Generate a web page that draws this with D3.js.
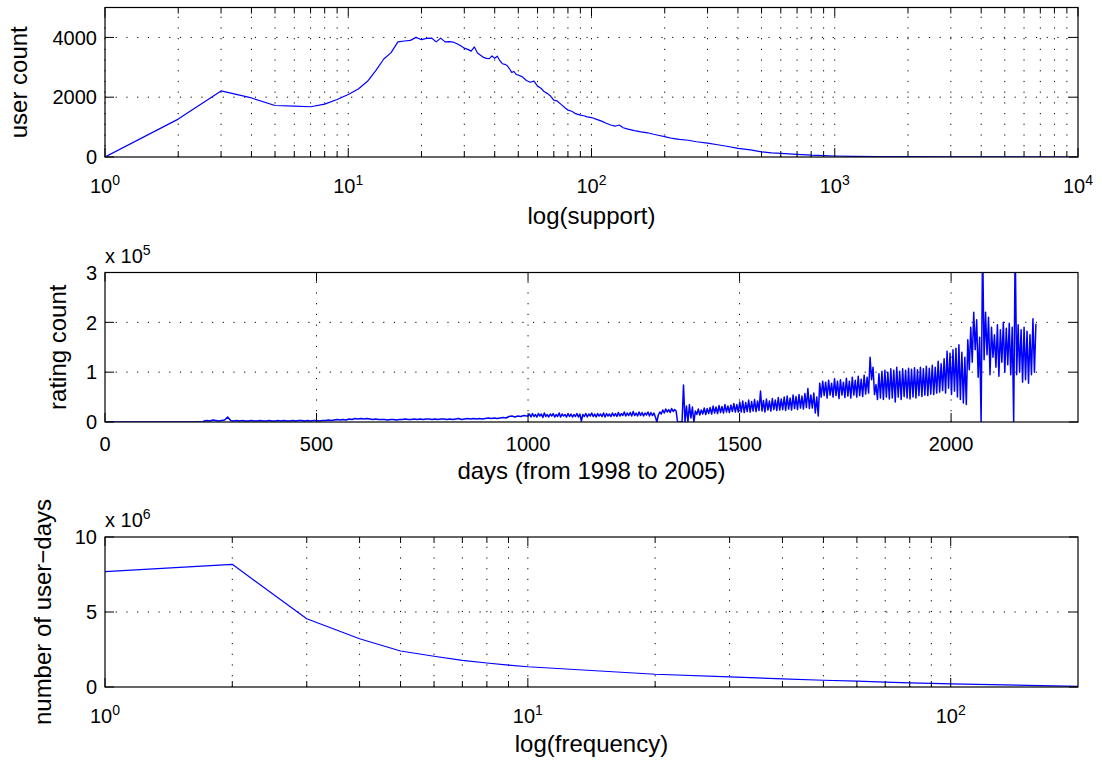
<!DOCTYPE html>
<html>
<head>
<meta charset="utf-8">
<script src="https://cdn.jsdelivr.net/npm/d3@7"></script>
<style>
body { margin: 0; background: #fff; }
text { font-family: "Liberation Sans", Arial, Helvetica, sans-serif; fill: #000; }
.grid { stroke: #000; stroke-width: 1; stroke-dasharray: 1.2, 9.5; }
.frame { fill: none; stroke: #000; stroke-width: 1.2; }
.tick { stroke: #000; stroke-width: 1; }
.series { fill: none; stroke: #0000ff; stroke-width: 1.2; stroke-linejoin: round; }
</style>
</head>
<body>
<div class="container"></div>
<script>
// ---------- panel 1 : users per support value (log x)
var supportX = [1,2,3,4,5,6,7,8,9,10,11,12,13,14,15,16,17,18,19,20,
    21,22,23,24,25,26,27,28,29,30,31,32,33,34,35,36,37,38,39,40,
    41,42,43,44,45,46,47,48,49,50,52,54,56,58,60,62,64,66,68,70,
    72,75,78,80,83,86,90,93,96,100,105,110,115,120,125,130,135,140,150,160,
    170,180,190,200,215,230,250,270,300,330,360,400,450,500,550,600,700,800,900,1000,
    1200,1500,2000,3000,5000,10000];
var userCount = [0,1267,2210,1975,1723,1700,1680,1767,1923,2090,2277,2533,2900,3277,3490,3850,3880,3900,4000,3923,
    3967,3977,3850,3977,3850,3860,3845,3790,3720,3640,3600,3540,3680,3480,3400,3330,3300,3290,3380,3300,
    3370,3220,3120,3100,3060,2950,2830,2860,2760,2740,2680,2560,2500,2540,2370,2300,2180,2120,2030,1900,
    1880,1760,1640,1570,1530,1450,1400,1380,1340,1320,1260,1200,1130,1070,1030,1070,980,940,880,840,
    810,760,720,680,620,590,560,510,465,410,360,290,240,170,140,120,90,60,45,33,
    22,15,10,5,2,0];

// ---------- panel 2 : ratings per day (units of 1e5)
var ratingLeadDays = [0, 233];
var ratingLeadVals = [0, 0];
var weeklyStart = 234;      // one reading per week, days 234..997
var weeklyRating = [
    0.02,0.03,0.02,0.04,0.03,0.02,0.03,0.04,0.10,
    0.03,0.02,0.03,0.02,0.03,0.02,0.02,0.03,0.02,0.02,0.03,0.02,
    0.02,0.03,0.02,0.02,0.03,0.02,0.03,0.02,0.02,0.03,0.02,0.03,0.03,0.02,0.03,0.02,0.03,0.03,0.02,0.03,
    0.03,0.04,0.03,0.04,0.05,0.04,0.05,0.04,0.06,0.05,0.07,0.06,0.07,0.06,0.07,0.06,0.05,0.06,0.05,0.05,
    0.05,0.04,0.05,0.05,0.04,0.05,0.05,0.06,0.05,0.05,0.06,0.05,0.06,0.05,0.06,0.06,0.05,0.06,0.05,0.06,
    0.06,0.05,0.06,0.05,0.06,0.07,0.05,0.06,0.07,0.06,0.07,0.06,0.07,0.06,0.07,0.08,0.07,0.08,0.07,0.08,
    0.09,0.08,0.11,0.12,0.10,0.12,0.11,0.13,0.12];
var halfWeekStart = 1000;   // two readings per week (peak / trough), days 1000..2200
var halfWeekRating = [
    // 1000-1098
    0.12,0.16,0.10,0.17,0.11,0.15,0.10,0.17,0.12,0.16,0.09,0.18,0.11,0.15,0.10,0.16,0.12,0.17,0.10,0.15,
    0.11,0.18,0.10,0.16,0.12,0.15,0.10,0.17,0.11,
    // 1101-1199
    0.16,0.10,0.15,0.11,0.17,0.10,0.16,0.02,0.15,0.11,0.17,0.10,0.16,0.12,0.18,0.11,0.16,0.10,0.17,0.12,
    0.16,0.11,0.18,0.10,0.17,0.12,0.16,0.11,0.18,
    // 1203-1297
    0.12,0.17,0.11,0.19,0.12,0.17,0.13,0.20,0.12,0.18,0.13,0.19,0.12,0.21,0.13,0.18,0.12,0.20,0.13,0.19,
    0.12,0.18,0.14,0.20,0.12,0.19,0.13,0.18,
    // 1301-1346
    0.10,0.00,0.14,0.20,0.16,0.24,0.18,0.26,0.20,0.25,0.19,0.27,0.21,0.25,
    // 1350-1395 (outage and spike)
    0.22,0.00,0.00,0.00,0.00,0.74,0.00,0.32,0.00,0.35,0.08,0.30,0.00,0.22,
    // 1399-1497
    0.15,0.26,0.14,0.24,0.16,0.28,0.15,0.27,0.17,0.29,0.16,0.32,0.18,0.30,0.17,0.33,0.19,0.31,0.18,0.35,
    0.20,0.32,0.19,0.34,0.21,0.37,0.20,0.35,0.20,
    // 1500-1598
    0.40,0.20,0.42,0.19,0.39,0.21,0.44,0.20,0.41,0.22,0.45,0.21,0.42,0.23,0.62,0.22,0.43,0.20,0.46,0.24,
    0.42,0.22,0.47,0.25,0.44,0.23,0.49,0.24,0.46,
    // 1602-1690
    0.25,0.50,0.23,0.52,0.26,0.48,0.24,0.54,0.27,0.51,0.25,0.55,0.28,0.52,0.26,0.57,0.29,0.67,0.27,0.54,
    0.28,0.58,0.18,0.50,0.12,0.78,
    // 1693-1809
    0.50,0.82,0.53,0.80,0.48,0.84,0.54,0.78,0.50,0.87,0.53,0.82,0.47,0.85,0.54,0.80,0.49,0.88,0.52,0.82,
    0.48,0.90,0.54,0.84,0.50,0.92,0.53,0.86,0.51,0.94,0.56,0.90,0.58,1.30,
    // 1812-1987
    0.85,1.10,0.55,0.75,0.45,0.97,0.48,1.02,0.45,1.04,0.50,1.00,0.46,1.07,0.48,1.04,0.40,1.10,0.50,1.02,
    0.45,1.07,0.51,1.04,0.48,1.08,0.46,1.06,0.50,1.09,0.48,1.05,0.53,1.10,0.51,1.07,0.54,1.12,0.53,1.08,
    0.56,1.14,0.55,1.10,0.58,1.22,0.60,1.17,0.63,1.27,0.58,
    // 1990-2064
    1.42,0.68,1.38,0.55,1.45,0.62,1.48,0.50,1.55,0.45,1.40,0.38,1.30,0.35,1.65,1.05,1.90,1.20,2.20,1.45,
    2.05,0.90,
    // 2067-2078 (outage and spike)
    1.70,0.00,3.60,1.25,
    // 2081-2144
    2.20,1.35,2.10,0.95,1.90,1.30,1.75,1.10,1.95,0.92,1.85,1.20,2.00,1.00,1.88,1.15,1.98,0.95,1.90,
    // 2148-2151 (outage and spike)
    0.00,3.60,
    // 2155-2200
    0.95,1.95,1.00,1.85,0.80,1.90,0.85,1.82,0.78,1.75,0.95,2.07,1.00,1.97];

// ---------- panel 3 : user-days per frequency (units of 1e6)
var freqX = [1,2,3,4,5,6,7,8,9,10,20,30,40,50,60,70,80,90,100,200];
var userDays = [7.69,8.18,4.55,3.22,2.40,2.05,1.78,1.60,1.46,1.35,0.85,0.68,0.54,0.45,0.39,0.33,0.28,0.24,0.21,0.04];

var width = 1102, height = 760;
var left = 105, right = 1078;
var svg = d3.select(".container").append("svg")
    .attr("width", width)
    .attr("height", height);

var x1 = d3.scaleLog().domain([1, 1e4]).range([left, right]);
var y1 = d3.scaleLinear().domain([0, 5000]).range([157, 7.5]);
var x2 = d3.scaleLinear().domain([0, 2300]).range([left, right]);
var y2 = d3.scaleLinear().domain([0, 3]).range([422, 272.5]);
var x3 = d3.scaleLog().domain([1, 200]).range([left, right]);
var y3 = d3.scaleLinear().domain([0, 10]).range([687, 537]);

function logMinors(dom)
{
    var out = [];
    for (var p = 1; p <= dom[1]; p *= 10)
        for (var k = 2; k <= 9; k++)
            if (k * p < dom[1]) out.push(k * p);
    return out;
}

function drawPanel(o)
{
    var g = svg.append("g");
    var xa = o.x.range()[0], xb = o.x.range()[1];
    var yb = o.y.range()[0], yt = o.y.range()[1];
    var id = "clip" + o.name;

    g.append("clipPath").attr("id", id).append("rect")
        .attr("x", xa).attr("y", yt).attr("width", xb - xa).attr("height", yb - yt);

    // dotted grid
    o.gridX.forEach(function(v)
    {
        g.append("line").attr("class", "grid")
            .attr("x1", o.x(v)).attr("x2", o.x(v)).attr("y1", yb).attr("y2", yt);
    });
    o.gridY.forEach(function(v)
    {
        g.append("line").attr("class", "grid")
            .attr("x1", xa).attr("x2", xb).attr("y1", o.y(v)).attr("y2", o.y(v));
    });

    // data
    var line = d3.line().x(function(d) { return o.x(d[0]); }).y(function(d) { return o.y(d[1]); });
    g.append("path").attr("class", "series")
        .attr("clip-path", "url(#" + id + ")")
        .style("stroke-width", o.lineWidth || 1.2)
        .attr("d", line(o.data));

    // ticks, pointing inwards on all four sides
    function xTick(v, len)
    {
        g.append("line").attr("class", "tick").attr("x1", o.x(v)).attr("x2", o.x(v)).attr("y1", yb).attr("y2", yb - len);
        g.append("line").attr("class", "tick").attr("x1", o.x(v)).attr("x2", o.x(v)).attr("y1", yt).attr("y2", yt + len);
    }
    o.xMajor.forEach(function(v) { xTick(v, 9); });
    (o.xMinor || []).forEach(function(v) { xTick(v, 6); });
    o.yMajor.forEach(function(v)
    {
        g.append("line").attr("class", "tick").attr("x1", xa).attr("x2", xa + 9).attr("y1", o.y(v)).attr("y2", o.y(v));
        g.append("line").attr("class", "tick").attr("x1", xb).attr("x2", xb - 9).attr("y1", o.y(v)).attr("y2", o.y(v));
    });

    g.append("rect").attr("class", "frame")
        .attr("x", xa).attr("y", yt).attr("width", xb - xa).attr("height", yb - yt);

    // x tick labels
    o.xMajor.forEach(function(v)
    {
        var t = g.append("text")
            .attr("x", o.x(v))
            .attr("y", yb + o.xLabelOffset)
            .attr("text-anchor", "middle")
            .style("font-size", "20px");
        if (o.log)
        {
            t.append("tspan").text("10");
            t.append("tspan").attr("dy", -8).style("font-size", "14px").text(Math.round(Math.log10(v)));
        }
        else
        {
            t.text(v);
        }
    });

    // y tick labels
    o.yMajor.forEach(function(v)
    {
        g.append("text")
            .attr("x", xa - 8)
            .attr("y", o.y(v))
            .attr("dy", "0.36em")
            .attr("text-anchor", "end")
            .style("font-size", "20px")
            .text(v);
    });

    // axis titles
    g.append("text")
        .attr("x", (xa + xb) / 2)
        .attr("y", yb + o.xTitleOffset)
        .attr("text-anchor", "middle")
        .style("font-size", "24px")
        .text(o.xTitle);
    g.append("text")
        .attr("transform", "translate(" + o.yTitleX + "," + (yb + yt) / 2 + ") rotate(-90)")
        .attr("text-anchor", "middle")
        .style("font-size", "24px")
        .text(o.yTitle);

    // exponent multiplier above the axes
    if (o.multiplier)
    {
        var m = g.append("text")
            .attr("x", xa)
            .attr("y", yt - 10)
            .style("font-size", "20px");
        m.append("tspan").text("x 10");
        m.append("tspan").attr("dy", -8).style("font-size", "14px").text(o.multiplier);
    }
}

drawPanel({
    name: "support",
    x: x1, y: y1, log: true,
    data: d3.zip(supportX, userCount),
    xMajor: [1, 10, 100, 1000, 10000],
    xMinor: logMinors([1, 1e4]),
    gridX: [1, 10, 100, 1000].concat(logMinors([1, 1e4])),
    yMajor: [0, 2000, 4000],
    gridY: [2000, 4000],
    xLabelOffset: 36, xTitleOffset: 67,
    xTitle: "log(support)",
    yTitle: "user count", yTitleX: 27
});

var ratingSeries = d3.zip(ratingLeadDays, ratingLeadVals)
    .concat(weeklyRating.map(function(v, i) { return [weeklyStart + 7 * i, v]; }))
    .concat(halfWeekRating.map(function(v, i) { return [halfWeekStart + 3.5 * i, v]; }));

drawPanel({
    name: "rating",
    x: x2, y: y2, log: false,
    data: ratingSeries,
    lineWidth: 1.5,
    xMajor: [0, 500, 1000, 1500, 2000],
    gridX: [500, 1000, 1500, 2000],
    yMajor: [0, 1, 2, 3],
    gridY: [1, 2],
    xLabelOffset: 29, xTitleOffset: 57,
    xTitle: "days (from 1998 to 2005)",
    yTitle: "rating count", yTitleX: 66,
    multiplier: "5"
});

drawPanel({
    name: "freq",
    x: x3, y: y3, log: true,
    data: d3.zip(freqX, userDays),
    xMajor: [1, 10, 100],
    xMinor: logMinors([1, 200]),
    gridX: [10, 100].concat(logMinors([1, 200])),
    yMajor: [0, 5, 10],
    gridY: [5],
    xLabelOffset: 36, xTitleOffset: 65,
    xTitle: "log(frequency)",
    yTitle: "number of user\u2212days", yTitleX: 51,
    multiplier: "6"
});
</script>
</body>
</html>
